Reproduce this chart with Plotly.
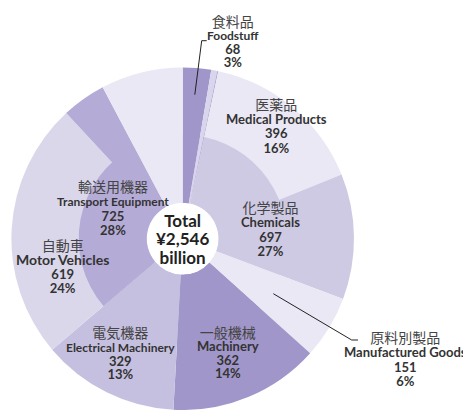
import plotly.graph_objects as go
import math

# ---- data (billion yen) ----
top_names = ["Foodstuff", "Raw Materials", "Mineral Fuels", "Chemicals",
             "Manufactured Goods", "Machinery", "Electrical Machinery",
             "Transport Equipment", "Others"]
top_ja = ["食料品", "原料品", "鉱物性燃料", "化学製品", "原料別製品",
          "一般機械", "電気機器", "輸送用機器", "その他"]
top_values = [68, 14, 3, 697, 151, 362, 329, 725, 197]

sub_names = ["Medical Products", "Motor Vehicles"]
sub_ja = ["医薬品", "自動車"]
sub_values = [396, 619]
sub_parent = ["Chemicals", "Transport Equipment"]

# ---- styling ----
W, H = 463, 410
CX, CY = 182.7, 238.7          # pie centre in px
R_OUT, R_MID, R_HOLE = 171.3, 104.0, 36.0

top_colors = {
    "Foodstuff": "#a196c9",
    "Raw Materials": "#d9d5ec",
    "Mineral Fuels": "#b7aed8",
    "Chemicals": "#cfcae4",
    "Manufactured Goods": "#eae8f4",
    "Machinery": "#a196c9",
    "Electrical Machinery": "#c6c0e0",
    "Transport Equipment": "#b4abd6",
    "Others": "#eae8f4",
}
sub_colors = {"Medical Products": "#eae8f4", "Motor Vehicles": "#dbd7eb"}

total = sum(top_values)
TEXT = "#333333"


def px(x, y):
    return x / W, 1 - y / H


# outer ring: children first (clockwise), then the parent's remainder
outer_labels, outer_values, outer_colors = [], [], []
for name, v in zip(top_names, top_values):
    kids = [i for i, p in enumerate(sub_parent) if p == name]
    if kids:
        rest = v
        for i in kids:
            outer_labels.append(sub_names[i])
            outer_values.append(sub_values[i])
            outer_colors.append(sub_colors[sub_names[i]])
            rest -= sub_values[i]
        outer_labels.append(name + " (other)")
        outer_values.append(rest)
        outer_colors.append(top_colors[name])
    else:
        outer_labels.append(name)
        outer_values.append(v)
        outer_colors.append(top_colors[name])

fig = go.Figure()

fig.add_trace(go.Pie(
    labels=outer_labels, values=outer_values, sort=False,
    direction="clockwise", rotation=0,
    marker=dict(colors=outer_colors, line=dict(width=0)),
    hole=R_HOLE / R_OUT, textinfo="none", hoverinfo="label+value",
    domain=dict(x=[(CX - R_OUT) / W, (CX + R_OUT) / W],
                y=[1 - (CY + R_OUT) / H, 1 - (CY - R_OUT) / H]),
    showlegend=False,
))

fig.add_trace(go.Pie(
    labels=top_names, values=top_values, sort=False,
    direction="clockwise", rotation=0,
    marker=dict(colors=[top_colors[n] for n in top_names], line=dict(width=0)),
    hole=R_HOLE / R_MID, textinfo="none", hoverinfo="label+value",
    domain=dict(x=[(CX - R_MID) / W, (CX + R_MID) / W],
                y=[1 - (CY + R_MID) / H, 1 - (CY - R_MID) / H]),
    showlegend=False,
))

# ---- labels ----
values_by_name = dict(zip(top_names, top_values))
values_by_name.update(dict(zip(sub_names, sub_values)))
ja_by_name = dict(zip(top_names, top_ja))
ja_by_name.update(dict(zip(sub_names, sub_ja)))

# label block: x centre, first line y, line spacing, english font size
label_layout = {
    "Foodstuff": (232.7, 20.7, 13.3, 12),
    "Medical Products": (276, 104, 14.2, 13),
    "Chemicals": (270, 207, 14.3, 13),
    "Transport Equipment": (112.7, 185.7, 14.4, 12),
    "Motor Vehicles": (62.7, 244, 14, 14),
    "Electrical Machinery": (120.7, 331.7, 13.8, 12),
    "Machinery": (227.7, 331.7, 13.4, 13),
    "Manufactured Goods": (405, 336, 14.4, 13),
}

JA_STYLE = "font-family:'Noto Sans CJK JP';font-size:14px;font-weight:normal;fill:#444444"


def en_style(size):
    return f"font-family:Lato;font-size:{size}px;font-weight:bold;fill:{TEXT}"


annotations = []
for name, (x, y0, step, fs) in label_layout.items():
    v = values_by_name[name]
    text = "<br>".join([
        f"<span style=\"{JA_STYLE}\">{ja_by_name[name]}</span>",
        f"<span style=\"{en_style(fs)}\">{name}</span>",
        f"<span style=\"{en_style(13)}\">{v}</span>",
        f"<span style=\"{en_style(13)}\">{round(v / total * 100)}%</span>",
    ])
    ax, ay = px(x, y0 + 1.5 * step)
    annotations.append(dict(
        x=ax, y=ay, xref="paper", yref="paper", text=text, showarrow=False,
        xanchor="center", yanchor="middle", align="center",
        font=dict(family="Lato", size=step / 1.3, color=TEXT),
    ))

# centre total
ax, ay = px(CX, 239.2)
annotations.append(dict(
    x=ax, y=ay, xref="paper", yref="paper",
    text="<br>".join(["Total", f"¥{total:,}", "billion"]), showarrow=False,
    xanchor="center", yanchor="middle", align="center",
    font=dict(family="Lato", size=14.2, color="#222222", weight="bold"),
))
# the center label uses a larger glyph size inside the same line pitch
annotations[-1]["text"] = "<br>".join(
    f"<span style=\"font-size:17px\">{t}</span>" for t in ["Total", f"¥{total:,}", "billion"]
)


# ---- leader lines from slice mid-angle to label ----
def slice_mid_angle(name):
    cum = 0
    for n, v in zip(top_names, top_values):
        if n == name:
            return (cum + v / 2) / total * 360
        cum += v
    return 0


shapes = []
for name, r, elbow, end in [
    ("Foodstuff", 144.5, (201.7, 40.7), (206.7, 40.7)),
    ("Manufactured Goods", 106, (351.7, 340), (358, 340)),
]:
    a = math.radians(slice_mid_angle(name))
    sx, sy = CX + r * math.sin(a), CY - r * math.cos(a)
    pts = [px(sx, sy), px(*elbow), px(*end)]
    path = "M {} {} L {} {} L {} {}".format(*[c for p in pts for c in p])
    shapes.append(dict(type="path", xref="paper", yref="paper", path=path,
                       line=dict(color="#222222", width=1)))

fig.update_layout(
    width=W, height=H, margin=dict(l=0, r=0, t=0, b=0),
    paper_bgcolor="white", plot_bgcolor="white",
    annotations=annotations, shapes=shapes,
)

fig.write_html("out.html")
